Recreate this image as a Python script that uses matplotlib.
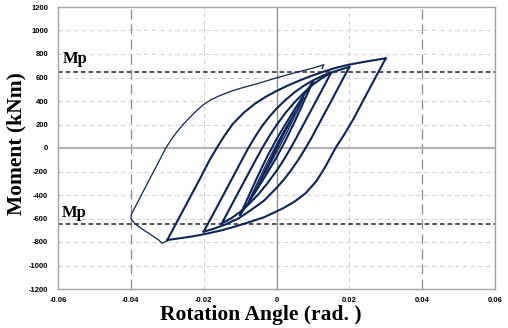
import matplotlib
matplotlib.use("Agg")
import matplotlib.pyplot as plt

# ---------------- data (rotation rad, moment kNm) ----------------
# cycle 0.00375
up_00375_t = [-0.00375, -0.0015, 0.0, 0.0015, 0.00375]
up_00375_m = [-235, -95, 10, 100, 225]
dn_00375_t = [0.00375, 0.0015, 0.0, -0.0015, -0.00375]
dn_00375_m = [225, 90, -10, -105, -235]
# cycle 0.005
up_0050_t = [-0.005, -0.0025, 0.0, 0.0025, 0.005]
up_0050_m = [-310, -150, 5, 155, 300]
dn_0050_t = [0.005, 0.0025, 0.0, -0.0025, -0.005]
dn_0050_m = [300, 145, -5, -160, -310]
# cycle 0.0075
up_0075_t = [-0.0075, -0.005, -0.0025, 0.0, 0.0025, 0.005, 0.0075]
up_0075_m = [-445, -280, -120, 30, 170, 300, 430]
dn_0075_t = [0.0075, 0.005, 0.0025, 0.0, -0.0025, -0.005, -0.0075]
dn_0075_m = [430, 270, 110, -35, -180, -310, -445]
# cycle 0.01
up_0100_t = [-0.010, -0.0075, -0.005, -0.0025, 0.0, 0.0025, 0.005, 0.0075, 0.010]
up_0100_m = [-570, -400, -230, -70, 75, 205, 330, 450, 565]
dn_0100_t = [0.010, 0.0075, 0.005, 0.0025, 0.0, -0.0025, -0.005, -0.0075, -0.010]
dn_0100_m = [565, 395, 225, 65, -80, -210, -335, -455, -570]
# cycle 0.015
up_0150_t = [-0.015, -0.0125, -0.010, -0.0075, -0.0055, -0.004, -0.002, 0.0,
             0.0025, 0.005, 0.0075, 0.010, 0.0125, 0.015]
up_0150_m = [-641, -495, -350, -205, -90, -5, 100, 195, 300, 390, 470, 540, 595, 640]
dn_0150_t = [0.015, 0.0125, 0.010, 0.0075, 0.0055, 0.004, 0.002, 0.0,
             -0.0025, -0.005, -0.0075, -0.010, -0.0125, -0.015]
dn_0150_m = [640, 495, 350, 205, 90, 5, -100, -195, -300, -395, -475, -545, -600, -641]
# cycle 0.02
up_0200_t = [-0.020, -0.017, -0.014, -0.011, -0.008, -0.006, -0.004, -0.002, 0.0,
             0.0025, 0.005, 0.0075, 0.010, 0.013, 0.016, 0.020]
up_0200_m = [-712, -540, -365, -190, -15, 90, 185, 265, 335,
             410, 475, 530, 575, 620, 652, 690]
dn_0200_t = [0.020, 0.017, 0.014, 0.012, 0.0095, 0.0079, 0.006, 0.004, 0.002, 0.0,
             -0.0035, -0.0071, -0.0105, -0.014, -0.017, -0.020]
dn_0200_m = [690, 515, 340, 225, 80, -5, -100, -190, -270, -340,
             -450, -530, -600, -650, -685, -712]
# cycle 0.03
up_0300_t = [-0.030, -0.027, -0.024, -0.021, -0.0185, -0.0165, -0.0145, -0.012, -0.009,
             -0.006, -0.003, 0.0, 0.003, 0.006, 0.009, 0.0125, 0.016, 0.020, 0.025, 0.030]
up_0300_m = [-783, -609, -435, -261, -110, -5, 95, 205, 300,
             375, 435, 485, 530, 570, 607, 645, 680, 710, 738, 763]
dn_0300_t = [0.030, 0.027, 0.024, 0.021, 0.0185, 0.0162, 0.0135, 0.011, 0.008, 0.005,
             0.002, 0.0, -0.0035, -0.0071, -0.011, -0.015, -0.019, -0.023, -0.027, -0.030]
dn_0300_m = [763, 590, 415, 240, 110, 0, -155, -280, -385, -455,
             -510, -540, -590, -627, -665, -700, -728, -752, -770, -783]
# final excursion (single pass)
fin_t = [-0.0300, -0.0314, -0.0323, -0.0336, -0.0350, -0.0364, -0.0378, -0.0390,
         -0.0400, -0.0398, -0.0375, -0.0352, -0.0328, -0.0304, -0.0285, -0.0270,
         -0.0253, -0.0236, -0.0218, -0.0200, -0.0181, -0.0160, -0.0140, -0.0120,
         -0.0099, -0.0050, 0.0, 0.005, 0.010, 0.013, 0.0125]
fin_m = [-790, -811, -785, -757, -728, -700, -670, -640,
         -600, -560, -425, -286, -145, 0, 90, 150,
         212, 267, 322, 370, 409, 440, 465, 488,
         508, 550, 597, 640, 680, 709, 675]

mp_value = 650
x_ticks = [-0.06, -0.04, -0.02, 0.0, 0.02, 0.04, 0.06]
x_labels = ["-0.06", "-0.04", "-0.02", "0", "0.02", "0.04", "0.06"]
y_ticks = list(range(-1200, 1201, 200))

# ---------------- figure ----------------
fig = plt.figure(figsize=(5.08, 3.28), dpi=100)
ax = fig.add_axes([58/508, 39/328, 437/508, 282/328])
ax.set_xlim(-0.06, 0.06)
ax.set_ylim(-1200, 1200)

# grid
for y in y_ticks:
    if y not in (-1200, 0, 1200):
        ax.axhline(y, color="#d4d4d4", lw=0.8, ls=(0, (4, 3)), zorder=0)
for x in (-0.02, 0.02):
    ax.axvline(x, color="#d0d0d0", lw=0.8, ls=(0, (4, 3)), zorder=0)
for x in (-0.04, 0.04):
    ax.axvline(x, color="#8c8c8c", lw=0.9, ls=(0, (8, 4)), zorder=0)
ax.axhline(0, color="#b4b4b4", lw=1.6, zorder=0)
ax.axvline(0, color="#8a8a8a", lw=0.9, zorder=0)

col = "#0c2457"
thin_inner = [
    (up_00375_t, up_00375_m), (dn_00375_t, dn_00375_m),
    (up_0050_t, up_0050_m), (dn_0050_t, dn_0050_m),
    (up_0075_t, up_0075_m), (dn_0075_t, dn_0075_m),
]
outer = [
    (up_0100_t, up_0100_m), (dn_0100_t, dn_0100_m),
    (up_0150_t, up_0150_m), (dn_0150_t, dn_0150_m),
    (up_0200_t, up_0200_m), (dn_0200_t, dn_0200_m),
    (up_0300_t, up_0300_m), (dn_0300_t, dn_0300_m),
]
for t, m in thin_inner:
    ax.plot(t, m, color=col, lw=1.0, solid_joinstyle="round", zorder=3)
for t, m in outer:
    ax.plot(t, m, color=col, lw=1.5, solid_joinstyle="round", zorder=3)
ax.plot(fin_t, fin_m, color=col, lw=0.9, solid_joinstyle="round", zorder=3)

# Mp lines
ax.axhline(mp_value, color="#222222", lw=1.1, ls=(0, (3, 2)), zorder=2)
ax.axhline(-mp_value, color="#222222", lw=1.1, ls=(0, (3, 2)), zorder=2)
ax.text(-0.0587, 757, "Mp", family="Liberation Serif", fontweight="bold",
        fontsize=12, va="center", ha="left")
ax.text(-0.0590, -550, "Mp", family="Liberation Serif", fontweight="bold",
        fontsize=12, va="center", ha="left")

for s in ax.spines.values():
    s.set_color("#a0a0a0")
    s.set_linewidth(1.0)

ax.set_xticks(x_ticks)
ax.set_xticklabels(x_labels)
ax.set_yticks(y_ticks)
ax.set_yticklabels([str(v) for v in y_ticks])
ax.tick_params(axis="x", length=0, pad=6)
ax.tick_params(axis="y", length=0, pad=7)
for lab in ax.get_xticklabels() + ax.get_yticklabels():
    lab.set_family("Liberation Sans")
    lab.set_fontweight("bold")
    lab.set_fontsize(5.5)

ax.set_xlabel("Rotation Angle (rad. )", family="Liberation Serif", fontweight="bold",
              fontsize=15.5)
ax.set_ylabel("Moment (kNm)", family="Liberation Serif", fontweight="bold",
              fontsize=15.5)
ax.xaxis.set_label_coords(0.4645, -0.058, transform=ax.transAxes)
ax.yaxis.set_label_coords(-0.073, 0.516, transform=ax.transAxes)
ax.xaxis.label.set_va("top")

fig.savefig("out.png", dpi=100)
